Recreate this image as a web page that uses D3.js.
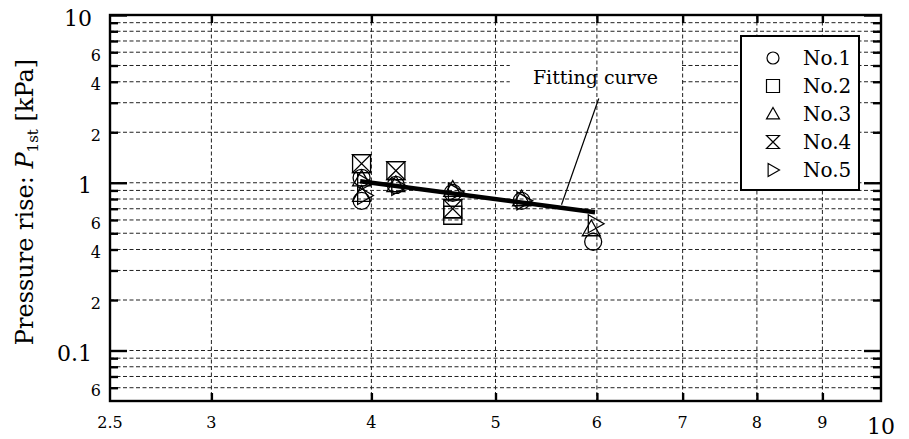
<!DOCTYPE html>
<html>
<head>
<meta charset="utf-8">
<script src="https://cdnjs.cloudflare.com/ajax/libs/d3/7.8.5/d3.min.js"></script>
<style>
  body { margin: 0; background: #fff; }
  svg { display: block; font-family: "DejaVu Serif", serif; }
</style>
</head>
<body>
<div id="chart"></div>
<script>
// data

var xGrid = [3, 4, 5, 6, 7, 8, 9];
var xLabels = [2.5, 3, 4, 5, 6, 7, 8, 9, 10];
var xBigLabels = [10];

var yMajor = [0.1, 1, 10];
var yMinor = [0.06, 0.07, 0.08, 0.09,
              0.2, 0.3, 0.4, 0.5, 0.6, 0.7, 0.8, 0.9,
              2, 3, 4, 5, 6, 7, 8, 9];
var yLabelValues = [10, 6, 4, 2, 1, 0.6, 0.4, 0.2, 0.1, 0.06];
var yLabelTexts = ["10", "6", "4", "2", "1", "6", "4", "2", "0.1", "6"];

var seriesNames = ["No.1", "No.2", "No.3", "No.4", "No.5"];
var seriesShapes = ["circle", "square", "triUp", "bowtie", "triRight"];

var no1 = [[3.93, 1.07], [3.93, 0.78], [4.18, 0.97], [4.63, 0.87], [5.24, 0.78], [5.96, 0.445]];
var no2 = [[3.93, 1.30], [4.18, 1.18], [4.63, 0.70], [4.63, 0.64]];
var no3 = [[3.93, 1.05], [3.93, 0.85], [4.18, 0.97], [4.63, 0.91], [5.24, 0.80], [5.94, 0.53]];
var no4 = [[3.93, 1.30], [4.18, 1.18], [4.63, 0.70]];
var no5 = [[3.95, 1.00], [3.95, 0.84], [4.20, 0.95], [4.65, 0.88], [5.26, 0.78], [5.98, 0.57]];
var seriesData = [no1, no2, no3, no4, no5];

var fitCurve = [[3.92, 1.02], [5.98, 0.668]];

var fitLabel = "Fitting curve";
var fitBoxX = [5.13, 6.98];
var fitBoxY = [3.21, 5.70];
var fitLeader = [[6.02, 3.18], [5.63, 0.74]];

// chart

var width = 909,
    height = 439,
    margin = { top: 15, right: 28, bottom: 38, left: 110 };

var svg = d3.select("#chart").append("svg")
    .attr("width", width)
    .attr("height", height);

var x = d3.scaleLog().domain([2.5, 10]).range([margin.left, width - margin.right]);
var y = d3.scaleLog().domain([0.05, 10]).range([height - margin.bottom, margin.top]);

var x0 = x.range()[0], x1 = x.range()[1],
    y0 = y.range()[0], y1 = y.range()[1];

function shapePath(kind, r) {
  var t = r * 0.75;
  switch (kind) {
    case "circle":
      return "M" + r + ",0A" + r + "," + r + " 0 1,1 " + (-r) + ",0A" + r + "," + r + " 0 1,1 " + r + ",0Z";
    case "square":
      return "M" + (-r) + "," + (-r) + "H" + r + "V" + r + "H" + (-r) + "Z";
    case "triUp":
      return "M0," + (-r) + "L" + r + "," + t + "L" + (-r) + "," + t + "Z";
    case "triRight":
      return "M" + (-t) + "," + (-r) + "L" + r + ",0L" + (-t) + "," + r + "Z";
    case "bowtie":
      return "M" + (-r) + "," + (-r) + "L" + r + "," + (-r) + "L" + (-r) + "," + r + "L" + r + "," + r + "Z";
  }
}

var dash = "4,2.5";

// horizontal grid
svg.append("g").selectAll("line")
  .data(yMajor.concat(yMinor))
  .join("line")
    .attr("x1", x0).attr("x2", x1)
    .attr("y1", function(d) { return y(d); })
    .attr("y2", function(d) { return y(d); })
    .attr("stroke", "#222")
    .attr("stroke-width", 1)
    .attr("stroke-dasharray", dash);

// white box behind the annotation
svg.append("rect")
  .attr("x", x(fitBoxX[0]))
  .attr("y", y(fitBoxY[1]))
  .attr("width", x(fitBoxX[1]) - x(fitBoxX[0]))
  .attr("height", y(fitBoxY[0]) - y(fitBoxY[1]))
  .attr("fill", "#fff");

// vertical grid
svg.append("g").selectAll("line")
  .data(xGrid)
  .join("line")
    .attr("x1", function(d) { return x(d); })
    .attr("x2", function(d) { return x(d); })
    .attr("y1", y1).attr("y2", y0)
    .attr("stroke", "#222")
    .attr("stroke-width", 1)
    .attr("stroke-dasharray", dash);

svg.append("text")
  .attr("x", (x(fitBoxX[0]) + x(fitBoxX[1])) / 2)
  .attr("y", (y(fitBoxY[0]) + y(fitBoxY[1])) / 2)
  .attr("dy", "0.35em")
  .attr("text-anchor", "middle")
  .attr("font-size", 19)
  .text(fitLabel);

// ticks, all pointing inward
function tickAxis(axis, tx, ty, values, len) {
  var g = svg.append("g")
    .attr("transform", "translate(" + tx + "," + ty + ")")
    .call(axis.tickValues(values).tickSize(len).tickFormat(""));
  g.select(".domain").remove();
  g.selectAll(".tick line").attr("stroke", "#000").attr("stroke-width", 2.4);
}

tickAxis(d3.axisLeft(y), x0, 0, yMajor, -17);
tickAxis(d3.axisLeft(y), x0, 0, yMinor, -8);
tickAxis(d3.axisRight(y), x1, 0, yMajor, -17);
tickAxis(d3.axisRight(y), x1, 0, yMinor, -8);
tickAxis(d3.axisBottom(x), 0, y0, xGrid, -8);
tickAxis(d3.axisTop(x), 0, y1, xGrid, -8);

// frame
svg.append("rect")
  .attr("x", x0).attr("y", y1)
  .attr("width", x1 - x0).attr("height", y0 - y1)
  .attr("fill", "none")
  .attr("stroke", "#000")
  .attr("stroke-width", 2.4);

// tick labels
svg.append("g").selectAll("text")
  .data(yLabelValues)
  .join("text")
    .attr("x", function(d) { return yMajor.indexOf(d) > -1 ? x0 - 18 : x0 - 9; })
    .attr("y", function(d) { return y(d) + 3; })
    .attr("dy", "0.35em")
    .attr("text-anchor", "end")
    .attr("font-size", function(d) { return yMajor.indexOf(d) > -1 ? 22 : 16; })
    .text(function(d, i) { return yLabelTexts[i]; });

svg.append("g").selectAll("text")
  .data(xLabels)
  .join("text")
    .attr("x", function(d) { return x(d); })
    .attr("y", function(d) { return xBigLabels.indexOf(d) > -1 ? y0 + 33 : y0 + 27; })
    .attr("text-anchor", "middle")
    .attr("font-size", function(d) { return xBigLabels.indexOf(d) > -1 ? 22 : 16; })
    .text(function(d) { return d; });

// axis title
var title = svg.append("text")
  .attr("transform", "translate(33," + ((y0 + y1) / 2 - 6) + ") rotate(-90)")
  .attr("text-anchor", "middle")
  .attr("font-size", 24);
title.append("tspan").text("Pressure rise: ");
title.append("tspan").attr("font-style", "italic").text("P");
title.append("tspan").attr("font-size", 15).attr("dy", 5).text("1st");
title.append("tspan").attr("dy", -5).text(" [kPa]");

// fitting curve
svg.append("path")
  .datum(fitCurve)
  .attr("d", d3.line()
    .x(function(d) { return x(d[0]); })
    .y(function(d) { return y(d[1]); }))
  .attr("fill", "none")
  .attr("stroke", "#000")
  .attr("stroke-width", 4.5);

// markers
seriesData.forEach(function(pts, i) {
  var r = seriesShapes[i] === "circle" ? 8.5 : 9;
  svg.append("g").selectAll("path")
    .data(pts)
    .join("path")
      .attr("transform", function(d) { return "translate(" + x(d[0]) + "," + y(d[1]) + ")"; })
      .attr("d", shapePath(seriesShapes[i], r))
      .attr("fill", "none")
      .attr("stroke", "#000")
      .attr("stroke-width", 1.3);
});

// leader line
svg.append("line")
  .attr("x1", x(fitLeader[0][0])).attr("y1", y(fitLeader[0][1]))
  .attr("x2", x(fitLeader[1][0])).attr("y2", y(fitLeader[1][1]))
  .attr("stroke", "#000")
  .attr("stroke-width", 1.2);

// legend
var legend = svg.append("g").attr("transform", "translate(741,36)");
legend.append("rect")
  .attr("width", 118).attr("height", 154)
  .attr("fill", "#fff")
  .attr("stroke", "#000")
  .attr("stroke-width", 2);

var rows = legend.selectAll("g.row")
  .data(seriesNames)
  .join("g")
    .attr("class", "row")
    .attr("transform", function(d, i) { return "translate(0," + (22 + i * 28) + ")"; });

rows.append("path")
  .attr("transform", "translate(32,0)")
  .attr("d", function(d, i) { return shapePath(seriesShapes[i], seriesShapes[i] === "circle" ? 6 : 6.5); })
  .attr("fill", "none")
  .attr("stroke", "#000")
  .attr("stroke-width", 1.2);

rows.append("text")
  .attr("x", 62)
  .attr("dy", "0.35em")
  .attr("font-size", 20)
  .text(function(d) { return d; });
</script>
</body>
</html>
